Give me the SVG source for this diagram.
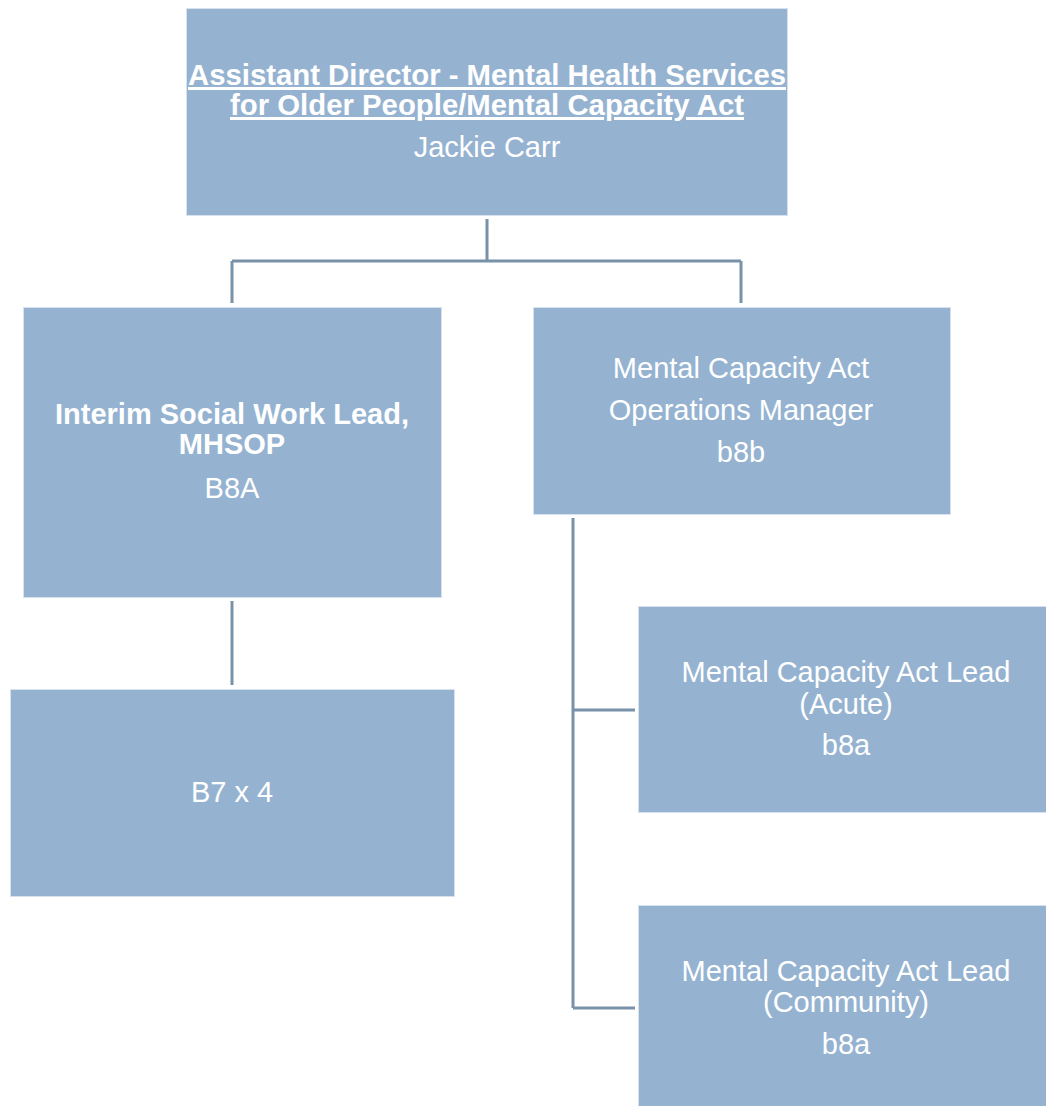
<svg xmlns="http://www.w3.org/2000/svg" width="1046" height="1106" viewBox="0 0 1046 1106">
<style>
.box{fill:#95b3d1;stroke:#d6e2ee;stroke-width:1}
.t{font-family:"Liberation Sans",Arial,sans-serif;font-size:29px;fill:#ffffff;text-anchor:middle}
.b{font-weight:bold;font-size:29px}
.h{font-weight:bold;font-size:30px}
.u{text-decoration:underline}
.c{fill:none;stroke:#7892aa;stroke-width:3}
</style>
<rect width="1046" height="1106" fill="#ffffff"/>
<g id="connectors">
<path class="c" d="M487 219V261M232 261H741M232 261V303M741 261V303"/>
<path class="c" d="M232 601V685"/>
<path class="c" d="M573 518V1008M573 710H635M573 1008H635"/>
</g>
<g id="n-director">
<rect class="box" x="186.5" y="8.5" width="601" height="207"/>
<text class="t h u" x="487" y="85" textLength="598" lengthAdjust="spacingAndGlyphs">Assistant Director - Mental Health Services</text>
<text class="t h u" x="487" y="115" textLength="514" lengthAdjust="spacingAndGlyphs">for Older People/Mental Capacity Act</text>
<text class="t" x="487" y="157">Jackie Carr</text>
</g>
<g id="n-swlead">
<rect class="box" x="23.5" y="307.5" width="418" height="290"/>
<text class="t b" x="232" y="424">Interim Social Work Lead,</text>
<text class="t b" x="232" y="454">MHSOP</text>
<text class="t" x="232" y="498">B8A</text>
</g>
<g id="n-b7">
<rect class="box" x="10.5" y="689.5" width="444" height="207"/>
<text class="t" x="232" y="802">B7 x 4</text>
</g>
<g id="n-opsmgr">
<rect class="box" x="533.5" y="307.5" width="417" height="207"/>
<text class="t" x="741" y="378">Mental Capacity Act</text>
<text class="t" x="741" y="420">Operations Manager</text>
<text class="t" x="741" y="462">b8b</text>
</g>
<g id="n-acute">
<rect class="box" x="638.5" y="606.5" width="410" height="206"/>
<text class="t" x="846" y="682">Mental Capacity Act Lead</text>
<text class="t" x="846" y="714">(Acute)</text>
<text class="t" x="846" y="755">b8a</text>
</g>
<g id="n-community">
<rect class="box" x="638.5" y="905.5" width="410" height="202"/>
<text class="t" x="846" y="981">Mental Capacity Act Lead</text>
<text class="t" x="846" y="1012">(Community)</text>
<text class="t" x="846" y="1054">b8a</text>
</g>
</svg>
